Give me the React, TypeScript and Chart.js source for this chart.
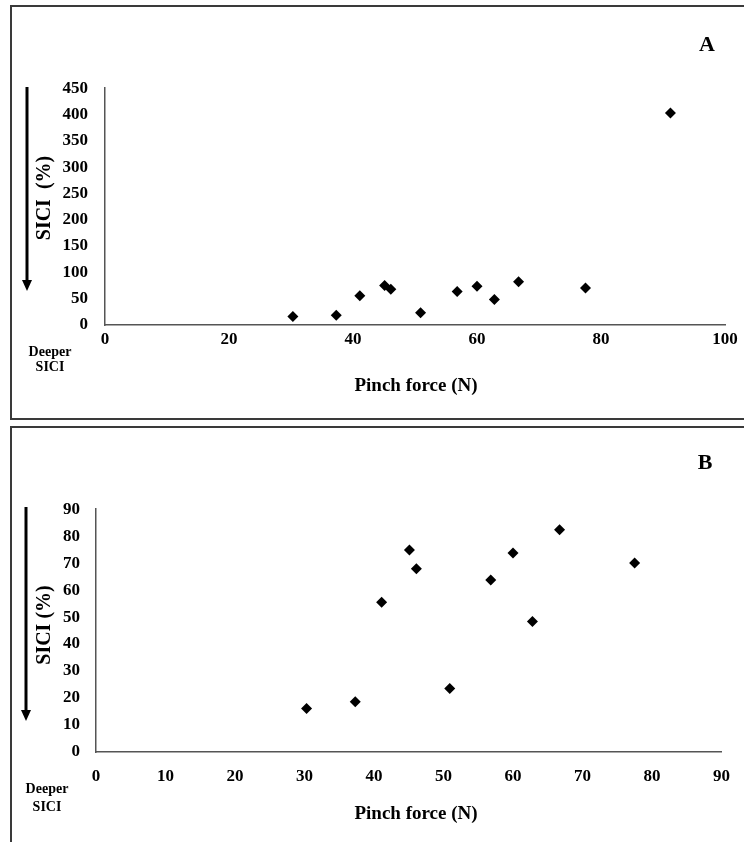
import React, { useEffect, useRef } from "react";
import { Chart, registerables } from "chart.js";
Chart.register(...registerables);

// Pinch force (N) and SICI (%) per subject
const pinchForce = [30.3, 37.3, 41.1, 45.1, 46.1, 50.9, 56.8, 60.0, 62.8, 66.7, 77.5];
const sici = [16.1, 18.6, 55.5, 74.9, 67.9, 23.5, 63.8, 73.8, 48.4, 82.4, 70.1];
// outlier shown only in panel A
const outlierForce = [91.2];
const outlierSici = [403];

const forceA = [...pinchForce, ...outlierForce];
const siciA = [...sici, ...outlierSici];

const xMaxA = 100, xStepA = 20, yMaxA = 450, yStepA = 50;
const xMaxB = 90, xStepB = 10, yMaxB = 90, yStepB = 10;

const SERIF = "'Liberation Serif', 'Times New Roman', serif";

type SP = {
  xs: number[]; ys: number[]; xMax: number; xStep: number; yMax: number; yStep: number;
  left: number; top: number; width: number; height: number; padRight: number; xPad: number; yPad: number; xH: number;
};

function Scatter(p: SP) {
  const ref = useRef<HTMLCanvasElement>(null);
  useEffect(() => {
    const tickFont = { family: SERIF, size: 17, weight: "bold" as const };
    const chart = new Chart(ref.current!, {
      type: "scatter",
      data: {
        datasets: [{
          data: p.xs.map((x, i) => ({ x, y: p.ys[i] })),
          pointStyle: "rectRot",
          pointRadius: 5.5,
          backgroundColor: "#000",
          borderColor: "#000",
          borderWidth: 0,
        }],
      },
      options: {
        animation: false,
        responsive: false,
        events: [],
        layout: { padding: { top: 12, right: p.padRight, left: 0, bottom: 0 } },
        plugins: { legend: { display: false }, tooltip: { enabled: false } },
        scales: {
          x: {
            type: "linear", min: 0, max: p.xMax,
            ticks: { stepSize: p.xStep, padding: p.xPad, color: "#000", font: tickFont, maxRotation: 0, autoSkip: false },
            grid: { display: false, drawTicks: false },
            border: { display: true, color: "#555", width: 1.5 },
            afterFit: (s: any) => { s.height = p.xH; },
          },
          y: {
            type: "linear", min: 0, max: p.yMax,
            ticks: { stepSize: p.yStep, padding: p.yPad, color: "#000", font: tickFont, autoSkip: false },
            grid: { display: false, drawTicks: false },
            border: { display: true, color: "#555", width: 1.5 },
            afterFit: (s: any) => { s.width = 50; },
          },
        },
      },
    });
    return () => chart.destroy();
  }, []);
  return (
    <canvas
      ref={ref}
      width={p.width}
      height={p.height}
      style={{ position: "absolute", left: p.left, top: p.top, width: p.width, height: p.height }}
    />
  );
}

function Txt({ x, y, size, children, rotate, lh }: any) {
  return (
    <div
      style={{
        position: "absolute", left: x, top: y,
        transform: `translate(-50%, -50%)${rotate ? " rotate(-90deg)" : ""}`,
        fontFamily: SERIF, fontWeight: "bold", fontSize: size, lineHeight: lh ? `${lh}px` : 1,
        whiteSpace: "pre", textAlign: "center", color: "#000",
      }}
    >
      {children}
    </div>
  );
}

function Arrow({ x, y1, y2 }: { x: number; y1: number; y2: number }) {
  return (
    <svg style={{ position: "absolute", left: 0, top: 0 }} width={744} height={842}>
      <line x1={x} y1={y1} x2={x} y2={y2 - 9} stroke="#000" strokeWidth={3} />
      <polygon points={`${x - 5},${y2 - 11} ${x + 5},${y2 - 11} ${x},${y2}`} fill="#000" />
    </svg>
  );
}

export default function App() {
  return (
    <div style={{ position: "absolute", left: 0, top: 0, width: 744, height: 842, overflow: "hidden", background: "#fff" }}>
      {/* Panel frames */}
      <div style={{ position: "absolute", left: 10, top: 5, width: 760, height: 411, borderTop: "2px solid #3a3a3a", borderLeft: "2px solid #3a3a3a", borderBottom: "2px solid #3a3a3a" }} />
      <div style={{ position: "absolute", left: 10, top: 426, width: 760, height: 440, borderTop: "2px solid #3a3a3a", borderLeft: "2px solid #3a3a3a" }} />

      <Scatter xs={forceA} ys={siciA} xMax={xMaxA} xStep={xStepA} yMax={yMaxA} yStep={yStepA}
        left={55} top={61} width={689} height={296} padRight={19} xPad={4} yPad={17} xH={32} />
      <Scatter xs={pinchForce} ys={sici} xMax={xMaxB} xStep={xStepB} yMax={yMaxB} yStep={yStepB}
        left={46} top={483} width={698} height={303} padRight={17} xPad={14} yPad={16} xH={34} />

      <Arrow x={27} y1={87} y2={291} />
      <Arrow x={26} y1={507} y2={721} />

      <Txt x={707} y={44} size={22}>A</Txt>
      <Txt x={705} y={462} size={22}>B</Txt>

      <Txt x={43} y={198} size={20} rotate>{"SICI  (%)"}</Txt>
      <Txt x={43} y={625} size={20} rotate>{"SICI (%)"}</Txt>

      <Txt x={50} y={359} size={14} lh={15}>{"Deeper\nSICI"}</Txt>
      <Txt x={47} y={798} size={14} lh={18}>{"Deeper\nSICI"}</Txt>

      <Txt x={416} y={384} size={19}>Pinch force (N)</Txt>
      <Txt x={416} y={812} size={19}>Pinch force (N)</Txt>
    </div>
  );
}
